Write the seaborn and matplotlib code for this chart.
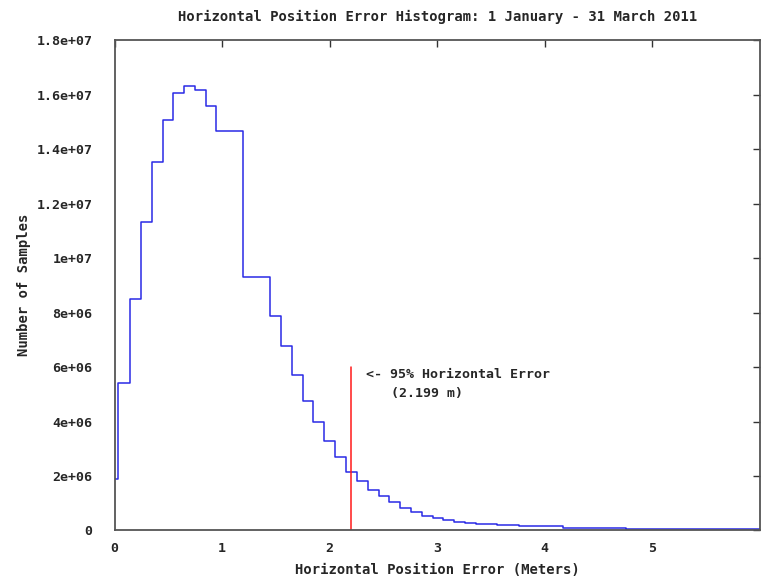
import matplotlib
matplotlib.use("Agg")
import matplotlib.pyplot as plt
import pandas as pd
import seaborn as sns

# Step edges (meters) and sample counts
error_m = [0.0, 0.035, 0.144, 0.243, 0.345, 0.447, 0.546, 0.642, 0.745, 0.847,
           0.945, 1.196, 1.45, 1.552, 1.651, 1.753, 1.846, 1.945, 2.047, 2.15,
           2.254, 2.357, 2.456, 2.552, 2.651, 2.753, 2.858, 2.96, 3.053, 3.155,
           3.257, 3.36, 3.56, 3.76, 4.17, 4.76, 6.0]
samples = [1.9e6, 5.42e6, 8.5e6, 11.32e6, 13.54e6, 15.08e6, 16.05e6, 16.33e6,
           16.15e6, 15.59e6, 14.67e6, 9.32e6, 7.87e6, 6.76e6, 5.70e6, 4.75e6,
           4.0e6, 3.30e6, 2.69e6, 2.16e6, 1.80e6, 1.49e6, 1.25e6, 1.03e6,
           0.84e6, 0.67e6, 0.55e6, 0.45e6, 0.38e6, 0.32e6, 0.27e6, 0.24e6,
           0.19e6, 0.15e6, 0.10e6, 0.06e6, 0.05e6]

y_ticks = [0, 2e6, 4e6, 6e6, 8e6, 1e7, 1.2e7, 1.4e7, 1.6e7, 1.8e7]
y_tick_labels = ["0", "2e+06", "4e+06", "6e+06", "8e+06", "1e+07",
                 "1.2e+07", "1.4e+07", "1.6e+07", "1.8e+07"]
x_ticks = [0, 1, 2, 3, 4, 5]

err95 = 2.199
err95_height = 6e6

df = pd.DataFrame({"error": error_m, "count": samples})

sns.set_theme(style="white")
plt.rcParams["font.family"] = ["DejaVu Sans Mono"]
plt.rcParams["font.weight"] = "bold"

fig = plt.figure(figsize=(7.61, 5.77), dpi=100)
ax = fig.add_axes([0.1505, 0.0806, 0.848, 0.85])

sns.lineplot(data=df, x="error", y="count", drawstyle="steps-post",
             color="#2a2ae6", linewidth=1.1, sort=False, ax=ax)
ax.plot([err95, err95], [0, err95_height], color="#ff1a1a", linewidth=1.1)

ax.text(2.335, 5.74e6, "<- 95% Horizontal Error", fontsize=9.5,
        fontweight="bold", va="center", ha="left")
ax.text(2.574, 5.03e6, "(2.199 m)", fontsize=9.5,
        fontweight="bold", va="center", ha="left")

ax.set_xlim(0, 6)
ax.set_ylim(0, 1.8e7)
ax.set_xticks(x_ticks)
ax.set_yticks(y_ticks)
ax.set_yticklabels(y_tick_labels)

ax.tick_params(direction="in", length=5, width=1, color="#333333",
               labelsize=9.5, top=True, right=True, pad=8)
ax.tick_params(axis="y", pad=16)
for lbl in ax.get_xticklabels() + ax.get_yticklabels():
    lbl.set_fontweight("bold")

for s in ax.spines.values():
    s.set_color("#555555")
    s.set_linewidth(1.3)

ax.set_title("Horizontal Position Error Histogram: 1 January - 31 March 2011",
             fontsize=10, fontweight="bold", pad=14)
ax.set_xlabel("Horizontal Position Error (Meters)", fontsize=10,
              fontweight="bold", labelpad=6)
ax.set_ylabel("Number of Samples", fontsize=10, fontweight="bold",
              labelpad=4)

fig.savefig("out.png", dpi=100)
plt.close(fig)
